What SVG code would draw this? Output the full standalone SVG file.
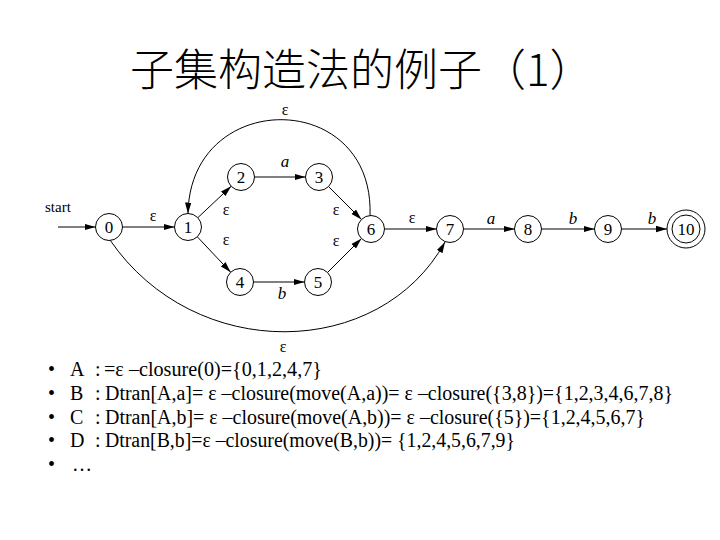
<svg xmlns="http://www.w3.org/2000/svg" width="720" height="540" viewBox="0 0 720 540">
<style>
.node circle{fill:#fff;stroke:#000;stroke-width:1}
.node text{font-family:"Liberation Serif",serif;font-size:17px;text-anchor:middle;fill:#000}
.edge{fill:none;stroke:#000;stroke-width:1;marker-end:url(#arr)}
.lbl{font-family:"Liberation Serif",serif;font-size:16px;text-anchor:middle;fill:#000}
.it{font-style:italic;font-size:17px}
.body{font-family:"Liberation Serif",serif;font-size:20px;fill:#000}
.title{font-family:"Noto Sans CJK SC","Noto Sans CJK TC",sans-serif;font-size:44px;font-weight:300;fill:#000}
</style>
<defs>
<marker id="arr" markerUnits="userSpaceOnUse" markerWidth="12" markerHeight="8" refX="11" refY="4" orient="auto">
<path d="M0,0.8 L11,4 L0,7.2 Z" fill="#000"/>
</marker>
</defs>
<rect width="720" height="540" fill="#fff"/>
<text class="title" x="130" y="86">子集构造法的例子（1）</text>

<g id="connectors">
<path class="edge" d="M58,227 L95.5,227"/>
<path class="edge" d="M122.5,227 L174.5,227"/>
<path class="edge" d="M197.8,217.7 L231.2,186.3"/>
<path class="edge" d="M197.3,236.8 L230.7,272.2"/>
<path class="edge" d="M254.5,177 L305.5,177"/>
<path class="edge" d="M253.5,282 L304.5,282"/>
<path class="edge" d="M328.5,186.5 L361.5,219.5"/>
<path class="edge" d="M327.5,272.5 L361.5,238.5"/>
<path class="edge" d="M384.5,229 L436.5,229"/>
<path class="edge" d="M463.5,229 L514.5,229"/>
<path class="edge" d="M541.5,229 L594.5,229"/>
<path class="edge" d="M621.5,229 L667,229"/>
<path class="edge" d="M370,216 C375,88 190,88 188,213.5"/>
<path class="edge" d="M110,240 C195,364 380,360 445,242"/>
<text class="lbl" x="45" y="212" style="text-anchor:start;font-size:15px">start</text>
<text class="lbl" x="153" y="221">ε</text>
<text class="lbl" x="226" y="215">ε</text>
<text class="lbl" x="226" y="245">ε</text>
<text class="lbl" x="336" y="215">ε</text>
<text class="lbl" x="336" y="246">ε</text>
<text class="lbl it" x="285" y="167">a</text>
<text class="lbl it" x="282" y="299">b</text>
<text class="lbl" x="285" y="115">ε</text>
<text class="lbl" x="283" y="352">ε</text>
<text class="lbl" x="412" y="223">ε</text>
<text class="lbl it" x="491" y="224">a</text>
<text class="lbl it" x="573" y="224">b</text>
<text class="lbl it" x="652" y="224">b</text>
</g>

<g id="n0" class="node"><circle cx="109" cy="227" r="13.5"/><text x="109" y="233">0</text></g>
<g id="n1" class="node"><circle cx="188" cy="227" r="13.5"/><text x="188" y="233">1</text></g>
<g id="n2" class="node"><circle cx="241" cy="177" r="13.5"/><text x="241" y="183">2</text></g>
<g id="n3" class="node"><circle cx="319" cy="177" r="13.5"/><text x="319" y="183">3</text></g>
<g id="n4" class="node"><circle cx="240" cy="282" r="13.5"/><text x="240" y="288">4</text></g>
<g id="n5" class="node"><circle cx="318" cy="282" r="13.5"/><text x="318" y="288">5</text></g>
<g id="n6" class="node"><circle cx="371" cy="229" r="13.5"/><text x="371" y="235">6</text></g>
<g id="n7" class="node"><circle cx="450" cy="229" r="13.5"/><text x="450" y="235">7</text></g>
<g id="n8" class="node"><circle cx="528" cy="229" r="13.5"/><text x="528" y="235">8</text></g>
<g id="n9" class="node"><circle cx="608" cy="229" r="13.5"/><text x="608" y="235">9</text></g>
<g id="n10" class="node"><circle cx="686" cy="229" r="19"/><circle cx="686" cy="229" r="14"/><text x="686" y="235">10</text></g>

<g id="bullets">
<text class="body" x="48" y="376">•</text>
<text class="body" x="48" y="400">•</text>
<text class="body" x="48" y="424">•</text>
<text class="body" x="48" y="447">•</text>
<text class="body" x="48" y="471">•</text>
<text class="body" x="70" y="376">A<tspan x="95">:</tspan><tspan x="104" textLength="218" lengthAdjust="spacingAndGlyphs">=ε –closure(0)={0,1,2,4,7}</tspan></text>
<text class="body" x="70" y="400">B<tspan x="95">:</tspan><tspan x="105" textLength="568" lengthAdjust="spacingAndGlyphs">Dtran[A,a]= ε –closure(move(A,a))= ε –closure({3,8})={1,2,3,4,6,7,8}</tspan></text>
<text class="body" x="70" y="424">C<tspan x="95">:</tspan><tspan x="105" textLength="540" lengthAdjust="spacingAndGlyphs">Dtran[A,b]= ε –closure(move(A,b))= ε –closure({5})={1,2,4,5,6,7}</tspan></text>
<text class="body" x="70" y="447">D<tspan x="95">:</tspan><tspan x="105" textLength="410" lengthAdjust="spacingAndGlyphs">Dtran[B,b]=ε –closure(move(B,b))= {1,2,4,5,6,7,9}</tspan></text>
<text class="body" x="72" y="471">…</text>
</g>
</svg>
